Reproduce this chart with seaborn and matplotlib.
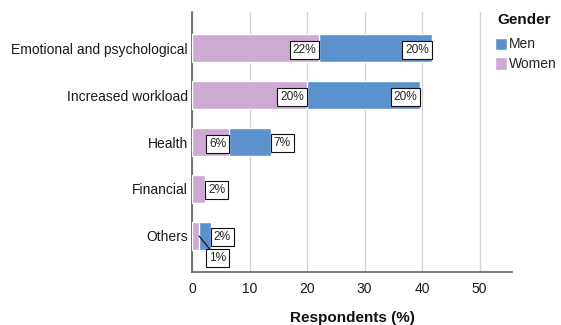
import matplotlib
matplotlib.use("Agg")
import matplotlib.pyplot as plt
from matplotlib.patches import Patch
import seaborn as sns
import pandas as pd

# Reasons reported, share of respondents (%) by gender
categories = ["Emotional and psychological", "Increased workload", "Health", "Financial", "Others"]
women = [22.1, 20.0, 6.4, 2.3, 1.2]
men = [19.6, 19.7, 7.3, 0.0, 2.1]

women_color = "#CDA9D3"
men_color = "#5B91CC"

sns.set_theme(style="white")
plt.rcParams["font.family"] = ["Liberation Sans", "DejaVu Sans"]

df = pd.DataFrame({"reason": categories, "Women": women, "Men": men})
df["total"] = df["Women"] + df["Men"]

fig = plt.figure(figsize=(5.61, 3.25), dpi=100)
ax = fig.add_axes([192 / 561, 53 / 325, 320 / 561, 260 / 325])

# Stacked bars: full length in the men's colour, women's part drawn over it
sns.barplot(data=df[df["Men"] > 0], x="total", y="reason", order=categories,
            color=men_color, width=0.6, orient="h", ax=ax, saturation=1, zorder=2)
sns.barplot(data=df, x="Women", y="reason", order=categories,
            color=women_color, width=0.6, orient="h", ax=ax, saturation=1, zorder=3)

ax.set_xlim(0, 55.65)
ax.set_ylim(len(categories) - 0.23, -0.77)
ax.set_xticks([0, 10, 20, 30, 40, 50])
ax.grid(axis="x", color="#d4d4d4", linewidth=1.0, zorder=0)
ax.grid(axis="y", visible=False)
ax.set_axisbelow(True)
for side in ("top", "right"):
    ax.spines[side].set_visible(False)
for side in ("left", "bottom"):
    ax.spines[side].set_color("#555555")
    ax.spines[side].set_linewidth(1.1)
ax.tick_params(axis="both", length=0, labelsize=10.0, colors="#1a1a1a")
ax.tick_params(axis="x", pad=7)
ax.tick_params(axis="y", pad=3)
ax.set_ylabel("")
ax.set_xlabel("Respondents (%)", fontsize=11, fontweight="bold", labelpad=11, color="#111111")

# Value labels at the end of each segment
box = dict(boxstyle="square,pad=0.25", facecolor="white", edgecolor="#111111", linewidth=0.8)
women_align = ["right", "right", "right", "left", "below"]
men_align = ["right", "right", "left", None, "left"]


def put_label(x, y, value, align):
    text = f"{value:.0f}%"
    if align == "right":
        ax.annotate(text, (x, y), xytext=(-2, -1.5), textcoords="offset points",
                    ha="right", va="center", fontsize=8.6, bbox=box, zorder=5)
    elif align == "left":
        ax.annotate(text, (x, y), xytext=(2, -1), textcoords="offset points",
                    ha="left", va="center", fontsize=8.6, bbox=box, zorder=5)
    else:
        ax.annotate(text, (x, y), xytext=(7, -16), textcoords="offset points",
                    ha="left", va="center", fontsize=8.6, bbox=box, zorder=5,
                    arrowprops=dict(arrowstyle="-", color="#111111", lw=0.8,
                                    shrinkA=0, shrinkB=0))


for i in range(len(categories)):
    put_label(women[i], i, women[i], women_align[i])
    if men[i] > 0:
        put_label(women[i] + men[i], i, men[i], men_align[i])

# Legend: bold title set above the colour keys
fig.text(497 / 561, 1 - 20 / 325, "Gender", fontsize=11, fontweight="bold",
         ha="left", va="center", color="#111111")
handles = [Patch(facecolor=men_color, label="Men"), Patch(facecolor=women_color, label="Women")]
leg = fig.legend(handles=handles, loc="upper left",
                 bbox_to_anchor=(495 / 561, 1 - 37.5 / 325), frameon=False,
                 fontsize=10.0, handlelength=0.85, handleheight=1.0, handletextpad=0.15,
                 labelspacing=0.42, borderpad=0, borderaxespad=0)

fig.savefig("out.png", dpi=100)
